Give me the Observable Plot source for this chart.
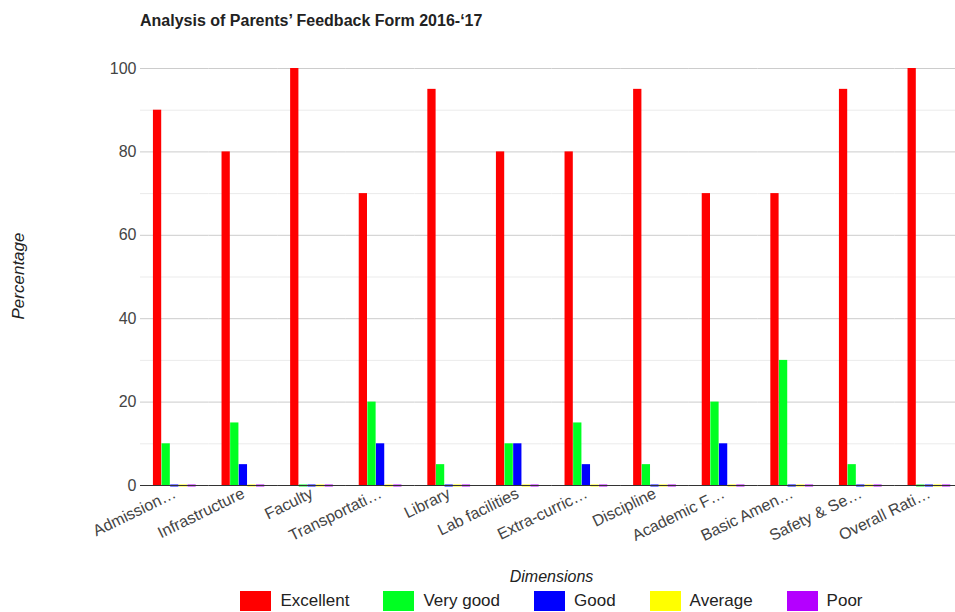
<!DOCTYPE html>
<html><head><meta charset="utf-8">
<script src="https://cdn.jsdelivr.net/npm/d3@7"></script>
<script src="https://cdn.jsdelivr.net/npm/@observablehq/plot@0.6"></script>
<style>
body{margin:0;background:#fff;font-family:"Liberation Sans",Arial,sans-serif;}
#wrap{position:relative;width:955px;height:612px;overflow:hidden;background:#fff}
#title{position:absolute;left:140px;top:12px;font-weight:bold;font-size:16px;color:#222;white-space:nowrap}
#chart{position:absolute;left:0;top:45px;width:955px}
#chart svg{max-width:none}
#xlabel{position:absolute;top:568px;left:140px;width:823px;text-align:center;font-style:italic;font-size:16px;color:#222}
#ylabel{position:absolute;left:19px;top:276px;transform:translate(-50%,-50%) rotate(-90deg);font-style:italic;font-size:17px;color:#222;white-space:nowrap}
#legend{position:absolute;top:591px;left:140px;width:823px;display:flex;justify-content:center;gap:34px;font-size:17px;color:#222}
.item{display:flex;align-items:center}
.sw{width:31px;height:20px;margin-right:9px}
</style></head>
<body><div id="wrap">
<div id="title">Analysis of Parents’ Feedback Form 2016-‘17</div>
<div id="chart"></div>
<div id="ylabel">Percentage</div>
<div id="xlabel">Dimensions</div>
<div id="legend"></div>
</div>
<script>
const categories = ["Admission…","Infrastructure","Faculty","Transportati…","Library","Lab facilities","Extra-curric…","Discipline","Academic F…","Basic Amen…","Safety & Se…","Overall Rati…"];
const series = ["Excellent","Very good","Good","Average","Poor"];
const excellent = [90,80,100,70,95,80,80,95,70,70,95,100];
const veryGood  = [10,15,0,20,5,10,15,5,20,30,5,0];
const good      = [0,5,0,10,0,10,5,0,10,0,0,0];
const average   = [0,0,0,0,0,0,0,0,0,0,0,0];
const poor      = [0,0,0,0,0,0,0,0,0,0,0,0];
const colors = ["#ff0000","#00ff22","#0000ff","#ffff00","#b400ff"];
const majorTicks = [0,20,40,60,80,100];
const minorTicks = [10,30,50,70,90];

const seriesValues = [excellent, veryGood, good, average, poor];
const rows = [];
categories.forEach((c,i)=>series.forEach((s,j)=>rows.push({category:c, series:s, value:seriesValues[j][i]})));
const zeroRows = rows.filter(d=>d.value===0);

const chart = Plot.plot({
  width:955, height:545,
  marginLeft:140, marginRight:0, marginTop:23, marginBottom:105,
  style:{fontFamily:'"Liberation Sans",Arial,sans-serif', fontSize:"16px", color:"#444", background:"transparent"},
  fx:{domain:categories, range:[140, 963.2], padding:0, round:false, label:null, axis:null},
  x:{domain:series, paddingInner:0.04, paddingOuter:1.5, round:false, axis:null},
  y:{domain:[0,100], label:null, axis:null},
  color:{domain:series, range:colors},
  marks:[
    Plot.ruleY(minorTicks, {stroke:"#ebebeb"}),
    Plot.ruleY(majorTicks, {stroke:"#cccccc"}),
    Plot.barY(rows, {fx:"category", x:"series", y:"value", fill:"series"}),
    Plot.tickY(zeroRows, {fx:"category", x:"series", y:0, stroke:"series", strokeWidth:2}),
    Plot.ruleY([0], {stroke:"#333", strokeWidth:1.2}),
    Plot.axisY({ticks:majorTicks, tickSize:0, tickPadding:4, label:null, fill:"#444"}),
    Plot.axisFx({anchor:"bottom", tickSize:0, tickPadding:7, tickRotate:-26, label:null, fill:"#444"})
  ]
});
document.getElementById("chart").appendChild(chart);

const legend = document.getElementById("legend");
series.forEach((s,j)=>{
  const it = document.createElement("div"); it.className="item";
  const sw = document.createElement("div"); sw.className="sw"; sw.style.background=colors[j];
  const t = document.createElement("span"); t.textContent=s;
  it.appendChild(sw); it.appendChild(t); legend.appendChild(it);
});
</script>
</body></html>
